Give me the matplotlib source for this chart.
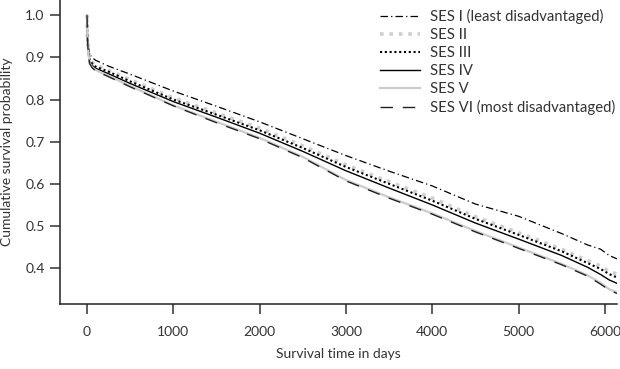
import matplotlib
matplotlib.use("Agg")
import matplotlib.pyplot as plt

plt.rcParams['font.family'] = ['Lato', 'DejaVu Sans']

days = [0, 5, 15, 30, 60, 100, 250, 500, 1000, 1500, 2000, 2500, 3000, 3500,
        4000, 4500, 5000, 5500, 5800, 5950, 6050, 6140]

ses1 = [1.0, 0.955, 0.925, 0.908, 0.899, 0.893, 0.879, 0.860, 0.820, 0.784, 0.747,
        0.707, 0.667, 0.630, 0.595, 0.552, 0.523, 0.482, 0.455, 0.445, 0.430, 0.422]
ses2 = [1.0, 0.950, 0.920, 0.898, 0.888, 0.881, 0.869, 0.847, 0.804, 0.768, 0.732,
        0.690, 0.645, 0.605, 0.566, 0.522, 0.484, 0.445, 0.418, 0.405, 0.392, 0.386]
ses3 = [1.0, 0.950, 0.918, 0.895, 0.885, 0.878, 0.866, 0.843, 0.800, 0.764, 0.727,
        0.685, 0.640, 0.600, 0.560, 0.517, 0.479, 0.440, 0.412, 0.398, 0.386, 0.378]
ses4 = [1.0, 0.948, 0.912, 0.890, 0.881, 0.874, 0.861, 0.838, 0.795, 0.758, 0.720,
        0.677, 0.631, 0.590, 0.550, 0.507, 0.469, 0.430, 0.402, 0.385, 0.372, 0.364]
ses5 = [1.0, 0.945, 0.910, 0.887, 0.877, 0.870, 0.856, 0.832, 0.786, 0.747, 0.709,
        0.664, 0.609, 0.568, 0.530, 0.488, 0.449, 0.410, 0.383, 0.365, 0.350, 0.343]
ses6 = [1.0, 0.944, 0.908, 0.885, 0.875, 0.868, 0.854, 0.830, 0.785, 0.745, 0.707,
        0.662, 0.607, 0.566, 0.528, 0.486, 0.447, 0.408, 0.381, 0.362, 0.348, 0.340]

labels = ["SES I (least disadvantaged)", "SES II", "SES III", "SES IV", "SES V",
          "SES VI (most disadvantaged)"]
xticks = [0, 1000, 2000, 3000, 4000, 5000, 6000]
yticks = [0.4, 0.5, 0.6, 0.7, 0.8, 0.9, 1.0]

fig = plt.figure(figsize=(6.2, 3.69), dpi=100)
ax = fig.add_axes([60/620, 65/369, 557/620, 304/369])

ax.plot(days, ses1, color='black', lw=0.9, ls=(0, (6, 2.5, 1, 2.5)), label=labels[0])
ax.plot(days, ses2, color='#cfcfcf', lw=2.6, ls=(0, (1, 1.6)), label=labels[1])
ax.plot(days, ses3, color='black', lw=1.5, ls=(0, (1, 1.3)), label=labels[2])
ax.plot(days, ses4, color='black', lw=1.0, ls='-', label=labels[3])
ax.plot(days, ses5, color='#cccccc', lw=1.6, ls='-', label=labels[4])
ax.plot(days, ses6, color='#222222', lw=1.0, ls=(0, (9, 7)), label=labels[5])

ax.set_xlim(-313, 6140)
ax.set_ylim(0.315, 1.036)
ax.set_xticks(xticks)
ax.set_xticklabels([str(v) for v in xticks])
ax.set_yticks(yticks)
ax.set_yticklabels([f"{v:.1f}" for v in yticks])

for s in ['top', 'right']:
    ax.spines[s].set_visible(False)
for s in ['left', 'bottom']:
    ax.spines[s].set_linewidth(1.1)
    ax.spines[s].set_color('#222222')

ax.tick_params(axis='both', direction='out', length=7, width=1.1, color='#333333',
               labelsize=10, labelcolor='#333333')
ax.tick_params(axis='x', pad=9)
ax.tick_params(axis='y', pad=4)

ax.set_xlabel("Survival time in days", fontsize=10, color='#333333', labelpad=7)
ax.set_ylabel("Cumulative survival probability", fontsize=10, color='#333333', labelpad=9)

leg = ax.legend(loc='upper right', bbox_to_anchor=(1.012, 1.0), frameon=False,
                fontsize=10.7, handlelength=2.7, labelspacing=0.27, handletextpad=0.65,
                borderaxespad=0.2)
for t in leg.get_texts():
    t.set_color('#333333')

fig.savefig("out.png", dpi=100)
